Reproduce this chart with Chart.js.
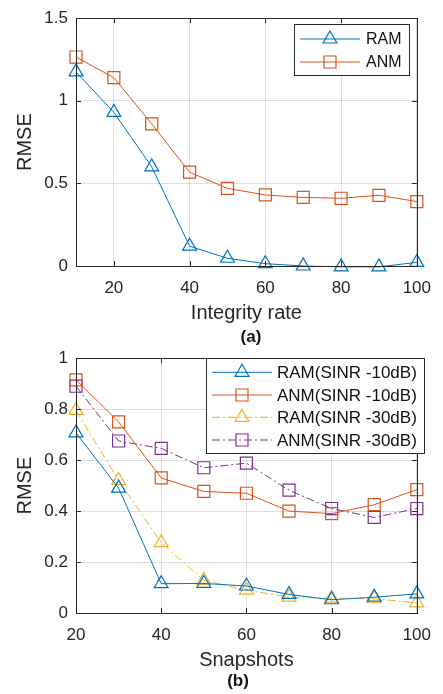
<!DOCTYPE html>
<html>
<head>
<meta charset="utf-8">
<script src="https://cdn.jsdelivr.net/npm/chart.js@4.4.0/dist/chart.umd.min.js"></script>
<style>
  body { margin: 0; background: #fff; width: 443px; height: 694px; position: relative; overflow: hidden;
         font-family: 'Liberation Sans', Arial, sans-serif; }
  .wrap { position: absolute; left: 0; width: 443px; }
  #wa { top: 0; height: 330px; }
  #wb { top: 340px; height: 337px; }
  .cap { position: absolute; font-weight: bold; font-size: 17px; line-height: 20px; transform: translateX(-50%); color: #111; }
</style>
</head>
<body>
<div class="wrap" id="wa"><canvas id="chartA"></canvas></div>
<div class="wrap" id="wb"><canvas id="chartB"></canvas></div>
<div class="cap" style="left:251px;top:327px">(a)</div>
<div class="cap" style="left:238px;top:671px">(b)</div>
<script>
// (a) integrity rate
const xA = [10, 20, 30, 40, 50, 60, 70, 80, 90, 100];
const ramA = [1.175, 0.93, 0.60, 0.12, 0.047, 0.014, 0.0, -0.005, -0.005, 0.022];
const anmA = [1.265, 1.14, 0.86, 0.568, 0.47, 0.43, 0.415, 0.41, 0.428, 0.39];
const xTicksA = [20, 40, 60, 80, 100];
const yTicksA = [0, 0.5, 1, 1.5];

// (b) snapshots
const xB = [20, 30, 40, 50, 60, 70, 80, 90, 100];
const ramB10 = [0.707, 0.49, 0.115, 0.116, 0.106, 0.073, 0.052, 0.062, 0.075];
const anmB10 = [0.915, 0.75, 0.53, 0.477, 0.47, 0.40, 0.39, 0.425, 0.484];
const ramB30 = [0.795, 0.52, 0.276, 0.128, 0.09, 0.062, 0.058, 0.056, 0.04];
const anmB30 = [0.89, 0.675, 0.646, 0.57, 0.588, 0.482, 0.41, 0.375, 0.41];
const xTicksB = [20, 40, 60, 80, 100];
const yTicksB = [0, 0.2, 0.4, 0.6, 0.8, 1];

const FONT = "'Liberation Sans', Arial, sans-serif";
const BLUE = '#0072BD', ORANGE = '#D95319', YELLOW = '#EDB120', PURPLE = '#7E2F8E';
const DASHDOT = [8, 3, 2, 3];

function pts(xs, ys) { return xs.map((x, i) => ({ x: x, y: ys[i] })); }

function series(label, xs, ys, color, style, dash) {
  return {
    label: label, data: pts(xs, ys), borderColor: color, backgroundColor: 'transparent',
    borderWidth: 1, borderDash: dash || [], tension: 0, clip: false,
    pointStyle: style, pointRadius: style === 'triangle' ? 8 : 8.5, pointHoverRadius: 8,
    pointBorderColor: color, pointBackgroundColor: 'transparent', pointBorderWidth: 1.2
  };
}

function marker(ctx, style, x, y, r) {
  ctx.beginPath();
  if (style === 'triangle') {
    const a = 2 * Math.PI / 3;
    ctx.moveTo(x, y - r);
    ctx.lineTo(x + Math.sin(a) * r, y - Math.cos(a) * r);
    ctx.lineTo(x + Math.sin(2 * a) * r, y - Math.cos(2 * a) * r);
    ctx.closePath();
  } else {
    const s = Math.SQRT1_2 * r;
    ctx.rect(x - s, y - s, 2 * s, 2 * s);
  }
  ctx.stroke();
}

// matlab style box with inward ticks
const boxPlugin = {
  id: 'box',
  afterDatasetsDraw(chart) {
    const { ctx, chartArea: a, scales } = chart;
    ctx.save();
    ctx.strokeStyle = '#262626';
    ctx.lineWidth = 1;
    ctx.strokeRect(Math.round(a.left) + 0.5, Math.round(a.top) + 0.5, Math.round(a.right - a.left), Math.round(a.bottom - a.top));
    ctx.beginPath();
    scales.x.ticks.forEach(t => {
      const px = Math.round(scales.x.getPixelForValue(t.value)) + 0.5;
      ctx.moveTo(px, a.bottom); ctx.lineTo(px, a.bottom - 5);
      ctx.moveTo(px, a.top); ctx.lineTo(px, a.top + 5);
    });
    scales.y.ticks.forEach(t => {
      const py = Math.round(scales.y.getPixelForValue(t.value)) + 0.5;
      ctx.moveTo(a.left, py); ctx.lineTo(a.left + 5, py);
      ctx.moveTo(a.right, py); ctx.lineTo(a.right - 5, py);
    });
    ctx.stroke();
    ctx.restore();
  }
};

const legendPlugin = {
  id: 'boxLegend',
  afterDraw(chart, args, o) {
    const ctx = chart.ctx;
    ctx.save();
    ctx.fillStyle = '#fff';
    ctx.fillRect(o.x, o.y, o.w, o.h);
    ctx.strokeStyle = '#262626';
    ctx.lineWidth = 1;
    ctx.strokeRect(o.x + 0.5, o.y + 0.5, o.w, o.h);
    chart.data.datasets.forEach((ds, i) => {
      const y = o.rows[i];
      ctx.strokeStyle = ds.borderColor;
      ctx.lineWidth = 1;
      ctx.setLineDash(ds.borderDash);
      ctx.beginPath();
      ctx.moveTo(o.x0, y); ctx.lineTo(o.x1, y);
      ctx.stroke();
      ctx.setLineDash([]);
      ctx.lineWidth = 1.2;
      marker(ctx, ds.pointStyle, o.xm, y, ds.pointRadius);
      ctx.fillStyle = '#111';
      ctx.font = o.size + 'px ' + FONT;
      ctx.textBaseline = 'middle';
      ctx.fillText(ds.label, o.tx, y + 1);
    });
    ctx.restore();
  }
};

function makeChart(id, datasets, xr, yr, xTicks, yTicks, xTitle, padTop, legend) {
  return new Chart(document.getElementById(id), {
    type: 'line',
    data: { datasets: datasets },
    plugins: [boxPlugin, legendPlugin],
    options: {
      responsive: true,
      maintainAspectRatio: false,
      animation: false,
      layout: { padding: { left: 0, right: 21, top: padTop, bottom: 0 } },
      plugins: { legend: { display: false }, tooltip: { enabled: false }, boxLegend: legend },
      scales: {
        x: {
          type: 'linear', min: xr[0], max: xr[1],
          afterBuildTicks: s => { s.ticks = xTicks.map(v => ({ value: v })); },
          afterFit: s => { s.height = 64; },
          grid: { color: 'rgba(0,0,0,0.13)', drawTicks: false },
          border: { display: false },
          ticks: { padding: 12, color: '#262626', font: { family: FONT, size: 17 } },
          title: { display: true, text: xTitle, color: '#262626', padding: { top: 0, bottom: 5 }, font: { family: FONT, size: 20 } }
        },
        y: {
          min: yr[0], max: yr[1],
          afterBuildTicks: s => { s.ticks = yTicks.map(v => ({ value: v })); },
          afterFit: s => { s.width = 76; },
          grid: { color: 'rgba(0,0,0,0.13)', drawTicks: false },
          border: { display: false },
          ticks: { padding: 8, color: '#262626', font: { family: FONT, size: 17 }, callback: v => String(v) },
          title: { display: true, text: 'RMSE', color: '#262626', padding: { top: 13, bottom: 0 }, font: { family: FONT, size: 20 } }
        }
      }
    }
  });
}

makeChart('chartA', [
  series('RAM', xA, ramA, BLUE, 'triangle'),
  series('ANM', xA, anmA, ORANGE, 'rect')
], [10, 100], [0, 1.5], xTicksA, yTicksA, 'Integrity rate', 11,
  { x: 294, y: 24, w: 115, h: 51, rows: [39, 62], x0: 300, x1: 360, xm: 330, tx: 366, size: 16 });

makeChart('chartB', [
  series('RAM(SINR -10dB)', xB, ramB10, BLUE, 'triangle'),
  series('ANM(SINR -10dB)', xB, anmB10, ORANGE, 'rect'),
  series('RAM(SINR -30dB)', xB, ramB30, YELLOW, 'triangle', DASHDOT),
  series('ANM(SINR -30dB)', xB, anmB30, PURPLE, 'rect', DASHDOT)
], [20, 100], [0, 1], xTicksB, yTicksB, 'Snapshots', 17,
  { x: 206, y: 18, w: 218, h: 95, rows: [32.3, 55, 77.3, 100], x0: 212, x1: 272, xm: 242, tx: 277, size: 17 });
</script>
</body>
</html>
